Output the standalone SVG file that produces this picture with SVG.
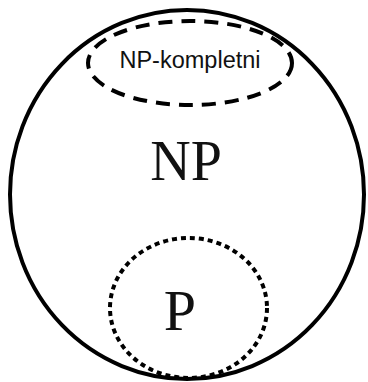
<svg xmlns="http://www.w3.org/2000/svg" width="368" height="382" viewBox="0 0 368 382">
<style>
.line{fill:none;stroke:#000;stroke-width:4}
.sans{font-family:"Liberation Sans",Arial,sans-serif;fill:#111}
.serif{font-family:"Liberation Serif","Times New Roman",serif;fill:#111}
</style>
<rect width="368" height="382" fill="#fff"/>
<g id="np">
<ellipse class="line" cx="187" cy="194.5" rx="177" ry="184.5"/>
<text class="serif" x="186" y="180" font-size="56" text-anchor="middle">NP</text>
</g>
<g id="npc">
<ellipse class="line" cx="190" cy="63" rx="102" ry="42" stroke-width="4.5" stroke-dasharray="14 9"/>
<text class="sans" x="190" y="68" font-size="23.5" text-anchor="middle">NP-kompletni</text>
</g>
<g id="p">
<ellipse class="line" cx="188.5" cy="308" rx="78.5" ry="70" stroke-width="5" stroke-dasharray="5 4"/>
<text class="serif" x="180" y="330" font-size="58" text-anchor="middle">P</text>
</g>
<g id="connectors"/>
</svg>
